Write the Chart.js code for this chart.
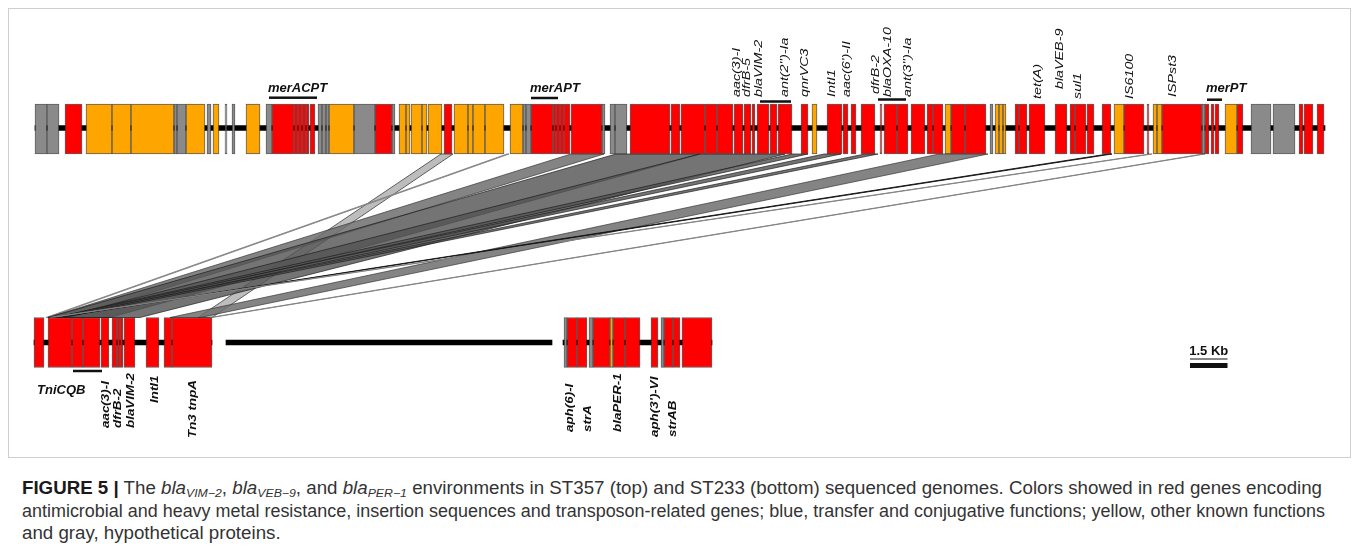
<!DOCTYPE html>
<html lang="en">
<head>
<meta charset="UTF-8" />
<title>Figure 5 - bla gene environments</title>
<script src="https://cdn.jsdelivr.net/npm/chart.js@4.4.1/dist/chart.umd.min.js"></script>
<style>
  body { margin: 0; background: #fff; }
  #wrap { position: relative; width: 1357px; height: 560px; overflow: hidden; }
  #frame { position: absolute; left: 8px; top: 8px; width: 1341px; height: 448px; border: 1px solid #cfcfcf; }
  #genes { position: absolute; left: 0; top: 0; }
  #caption { position: absolute; left: 22px; top: 477px; font-family: "Liberation Sans", Arial, sans-serif;
             font-size: 17.5px; line-height: 22.5px; color: #333; white-space: nowrap; }
  #caption div span { display: inline-block; transform-origin: 0 50%; }
  #caption b { color: #1a1a1a; }
  #caption sub { font-size: 11.5px; vertical-align: -3px; line-height: 0; }
</style>
</head>
<body>
<div id="wrap">
  <div id="frame"></div>
  <canvas id="genes" width="1357" height="460"></canvas>
  <div id="caption">
    <div><span id="line1" data-w="1300"><b>FIGURE 5 |</b> The <i>bla</i><sub><i>VIM&minus;2</i></sub>, <i>bla</i><sub><i>VEB&minus;9</i></sub>, and <i>bla</i><sub><i>PER&minus;1</i></sub> environments in ST357 (top) and ST233 (bottom) sequenced genomes. Colors showed in red genes encoding</span></div>
    <div><span data-w="1303">antimicrobial and heavy metal resistance, insertion sequences and transposon-related genes; blue, transfer and conjugative functions; yellow, other known functions</span></div>
    <div><span id="line3">and gray, hypothetical proteins.</span></div>
  </div>
</div>
<script>
// gene coordinates in kb, [start, end]
// ST357 (top)
const topRed = [[1.2,1.88],[9.48,10.36],[10.36,10.52],[10.52,10.68],[10.68,10.84],[10.84,10.96],[11.0,11.2],[13.6,14.28],[16.36,16.68],
  [19.84,20.72],[20.72,20.84],[20.84,21.0],[21.0,21.16],[21.16,21.4],[21.44,22.68],[23.8,25.4],[25.44,25.8],[25.84,26.8],[26.8,27.28],
  [27.28,27.92],[27.96,28.32],[28.36,28.64],[28.68,28.8],[28.88,29.36],[29.4,29.68],[29.72,30.28],[30.64,30.92],[31.68,32.28],[32.32,32.52],
  [32.64,32.84],[33.04,33.6],[33.8,33.88],[33.96,34.48],[34.48,34.92],[35.04,35.6],[35.68,35.92],[35.92,36.32],[36.64,37.2],[37.2,38.04],
  [39.2,39.36],[39.36,39.68],[39.76,40.4],[40.8,41.28],[41.4,41.6],[41.6,42.04],[42.08,42.36],[42.68,43.04],[43.56,44.36],[44.48,44.56],
  [45.08,46.68],[46.8,46.96],[47.04,47.16],[47.2,47.36],[48.08,48.32],[50.56,50.72],[50.76,51.12],[51.28,51.56]];
const topOrange = [[2.04,3.08],[3.08,3.84],[3.84,5.56],[6.04,6.8],[7.12,7.36],[8.44,9.0],[11.76,12.76],[14.56,14.84],[14.84,15.0],
  [15.04,15.48],[15.48,15.68],[15.72,16.28],[16.76,17.32],[17.32,17.52],[17.52,18.0],[18.0,18.76],[19.0,19.52],[31.08,31.28],[36.4,36.64],
  [38.4,38.56],[38.56,38.72],[38.72,38.84],[43.16,43.56],[44.72,44.88],[44.88,45.08],[47.6,48.08]];
const topGray = [[0,0.48],[0.48,0.96],[5.56,5.68],[5.68,6.04],[6.88,7.04],[7.6,7.68],[7.88,8.0],[9.24,9.48],[11.32,11.48],[11.48,11.64],
  [11.64,11.76],[12.76,13.6],[14.28,14.4],[19.52,19.64],[19.64,19.84],[22.68,22.8],[23.0,23.2],[23.2,23.68],[38.2,38.32],[46.68,46.8],
  [48.64,49.44],[49.52,50.4]];
// ST233 (bottom)
const botRed = [[-0.04,0.36],[0.52,1.48],[1.48,1.92],[1.92,2.6],[2.64,2.96],[3.08,3.28],[3.28,3.4],[3.4,3.52],[3.56,4.0],[4.44,4.96],
  [5.16,5.48],[5.48,7.08],[21.28,21.68],[21.68,22.08],[22.32,23.0],[23.12,23.6],[23.6,24.2],[24.64,24.92],[25.16,25.52],[25.52,25.8],[25.88,27.08]];
const botOrange = [[23.0,23.12]];
const botGray = [[21.16,21.28],[22.16,22.32],[25.04,25.16]];

const topBackbone = [[0,51.6]];
const botBackbone = [[-0.04,7.08],[7.64,20.68],[21.12,27.08]];

// homologous regions: top [start,end] -> bottom [start,end]
const bandTop = [[16.24,16.72],[18.88,18.96],[21.44,22.76],[23.24,26.6],[26.6,30.0],[30.28,30.92],[31.56,32.24],[33.2,33.72],
  [36.16,38.12],[42.92,43.08],[44.6,44.68],[46.72,46.8]];
const bandBottom = [[6.52,7.08],[0.44,0.52],[0.52,1.4],[0.52,3.0],[1.0,4.2],[0.8,1.08],[0.8,1.08],[0.92,1.16],
  [5.4,6.6],[0.8,0.88],[0.6,0.68],[7.0,7.08]];
const bandKind = ['light','thin','mid','dark','dark','dark','dark','dark','mid','black','thin','thin'];

// gene names
const topNames = ['aac(3)-I','dfrB-5','blaVIM-2',"ant(2'')-Ia",'qnrVC3','IntI1',"aac(6')-II",'dfrB-2','blaOXA-10',"ant(3'')-Ia",
  'tet(A)','blaVEB-9','sul1','IS6100','ISPst3'];
const topNameKb = [28.08,28.5,28.96,30.0,30.8,31.88,32.48,33.64,34.12,34.92,40.12,41.0,41.72,43.8,45.52];
const botNames = ['aac(3)-I','dfrB-2','blaVIM-2','IntI1','Tn3 tnpA','aph(6)-I','strA','blaPER-1',"aph(3')-VI",'strAB'];
const botNameKb = [2.84,3.32,3.84,4.8,6.32,21.4,22.12,23.32,24.8,25.52];
const clusterNames = ['merACPT','merAPT','merPT','TniCQB'];
const clusterKb = [[9.36,11.28],[19.84,20.92],[46.88,47.48],[1.52,2.68]];
const groupKb = [[29.0,30.24],[33.72,34.84]];
const scaleBarKb = [46.2,47.7];

// layout (pixels on the y axis)
const TOP_Y = 129, BOT_Y = 342.5, HALF = 25;
const topNameBase = [97,97,97,97,97,97,97,94,97,97,99,89,99,99,97];
const botNameBase = [428,428,428,403,438,432,432,432,437,437];

const colors = { red: '#ff0000', orange: '#ffa500', gray: '#8a8a8a' };
const bandLook = {
  light: { fill: 'rgba(185,185,185,0.95)', edge: 'rgba(80,80,80,0.9)', w: 1 },
  thin:  { fill: 'rgba(150,150,150,0.9)', edge: 'rgba(130,130,130,0.9)', w: 1 },
  mid:   { fill: 'rgba(110,110,110,0.85)', edge: 'rgba(50,50,50,0.85)', w: 0.8 },
  dark:  { fill: 'rgba(85,85,85,0.82)', edge: 'rgba(25,25,25,0.85)', w: 0.8 },
  black: { fill: 'rgba(20,20,20,0.9)', edge: 'rgba(20,20,20,0.9)', w: 1 }
};

function track(list, y) { return list.map(g => ({ x: g, y: y })); }

function geneSet(list, y, color) {
  return {
    data: track(list, y), backgroundColor: color, borderColor: 'rgba(40,40,40,0.75)', borderWidth: 1,
    borderSkipped: false, barThickness: HALF * 2, grouped: false, order: 1
  };
}

const extras = {
  id: 'extras',
  beforeDatasetsDraw(chart) {
    const { ctx, scales: { x, y } } = chart;
    const y1 = y.getPixelForValue(TOP_Y + HALF), y2 = y.getPixelForValue(BOT_Y - HALF);
    ctx.save();
    bandTop.forEach((t, i) => {
      const b = bandBottom[i], look = bandLook[bandKind[i]];
      ctx.beginPath();
      ctx.moveTo(x.getPixelForValue(t[0]), y1);
      ctx.lineTo(x.getPixelForValue(t[1]), y1);
      ctx.lineTo(x.getPixelForValue(b[1]), y2);
      ctx.lineTo(x.getPixelForValue(b[0]), y2);
      ctx.closePath();
      ctx.fillStyle = look.fill;
      ctx.fill();
      ctx.strokeStyle = look.edge;
      ctx.lineWidth = look.w;
      ctx.stroke();
    });
    ctx.restore();
  },
  afterDatasetsDraw(chart) {
    const { ctx, scales: { x, y } } = chart;
    ctx.save();
    ctx.fillStyle = '#111';
    ctx.textBaseline = 'middle';
    ctx.textAlign = 'left';

    // rotated names are stretched along the text, like the original figure
    function upright(text, kb, base, font, stretch) {
      ctx.save();
      ctx.font = font;
      ctx.translate(x.getPixelForValue(kb), y.getPixelForValue(base));
      ctx.rotate(-Math.PI / 2);
      ctx.scale(stretch, 1);
      ctx.fillText(text, 0, 0);
      ctx.restore();
    }
    function rule(span, yy, w) {
      ctx.fillRect(x.getPixelForValue(span[0]), y.getPixelForValue(yy) - w / 2,
        x.getPixelForValue(span[1]) - x.getPixelForValue(span[0]), w);
    }

    topNames.forEach((n, i) => upright(n, topNameKb[i], topNameBase[i], 'italic 10.5px "Liberation Sans", Arial, sans-serif', 1.36));
    botNames.forEach((n, i) => upright(n, botNameKb[i], botNameBase[i], 'italic bold 10.3px "Liberation Sans", Arial, sans-serif', 1.3));

    ctx.font = 'italic bold 13px "Liberation Sans", Arial, sans-serif';
    const clusterText = [[88, 97.7], [88, 98], [88.5, 99.7]];
    clusterNames.slice(0, 3).forEach((n, i) => {
      ctx.fillText(n, x.getPixelForValue(clusterKb[i][0]) - 1, y.getPixelForValue(clusterText[i][0]));
      rule(clusterKb[i], clusterText[i][1], 2.5);
    });
    ctx.fillText(clusterNames[3], x.getPixelForValue(0.08), y.getPixelForValue(390));
    rule(clusterKb[3], 371, 2.5);
    rule(groupKb[0], 101.5, 2.5);
    rule(groupKb[1], 99.5, 2.5);

    // scale bar
    ctx.font = 'bold 13px "Liberation Sans", Arial, sans-serif';
    ctx.textAlign = 'center';
    const mid = (scaleBarKb[0] + scaleBarKb[1]) / 2;
    ctx.fillText('1.5 Kb', x.getPixelForValue(mid), y.getPixelForValue(351.5));
    rule(scaleBarKb, 359, 1);
    rule(scaleBarKb, 365.5, 5);
    ctx.restore();
  }
};

new Chart(document.getElementById('genes'), {
  type: 'bar',
  data: {
    datasets: [
      { data: track(topBackbone, TOP_Y - 1).concat(track(botBackbone, BOT_Y)), backgroundColor: '#000', borderWidth: 0,
        barThickness: 5, grouped: false, order: 5 },
      geneSet(topGray, TOP_Y, colors.gray),
      geneSet(topOrange, TOP_Y, colors.orange),
      geneSet(topRed, TOP_Y, colors.red),
      geneSet(botGray, BOT_Y, colors.gray),
      geneSet(botOrange, BOT_Y, colors.orange),
      geneSet(botRed, BOT_Y, colors.red)
    ]
  },
  options: {
    indexAxis: 'y',
    responsive: false,
    animation: false,
    layout: { padding: 0 },
    plugins: { legend: { display: false }, tooltip: { enabled: false } },
    scales: {
      x: { type: 'linear', min: -1.4, max: 52.88, display: false },
      y: { type: 'linear', min: 0, max: 460, reverse: true, offset: false, display: false, grid: { offset: false } }
    }
  },
  plugins: [extras]
});

// the caption is set in a condensed face: squeeze each full line so it ends where it does in the figure
let squeeze = 1;
document.querySelectorAll('#caption span[data-w]').forEach(s => {
  const k = Number(s.dataset.w) / s.getBoundingClientRect().width;
  if (s.id === 'line1') squeeze = k;
  s.style.transform = 'scaleX(' + k + ')';
});
document.getElementById('line3').style.transform = 'scaleX(' + squeeze + ')';
</script>
</body>
</html>
